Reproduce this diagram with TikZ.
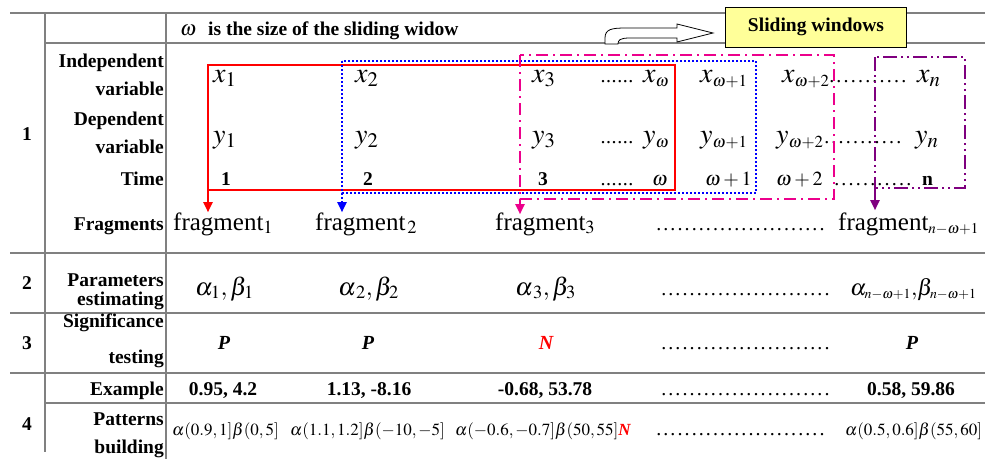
\documentclass[tikz,border=0pt]{standalone}
\usepackage{mathptmx}
\usepackage{fontspec}
\setmainfont{Liberation Serif}
\usetikzlibrary{arrows.meta}
\definecolor{boxyellow}{HTML}{FFFF99}
\definecolor{mypurple}{HTML}{7F007F}
\definecolor{gridgray}{HTML}{808080}
\newcommand{\dotrun}[2]{\hbox to #1pt{\leaders\hbox to #2pt{\hss.\hss}\hfill}}
\newcommand{\ssub}[1]{_{\scriptscriptstyle #1}}
\begin{document}
\begin{tikzpicture}[x=1pt,y=-1pt,
  grid/.style={draw=gridgray, line width=1.2pt},
  lbl/.style={anchor=base east, inner sep=0pt, font=\fontsize{19.5}{20}\selectfont\bfseries},
  idx/.style={anchor=base, inner sep=0pt, font=\fontsize{19.5}{20}\selectfont\bfseries},
  big/.style={anchor=base west, inner sep=0pt, font=\fontsize{25}{25}\selectfont},
  vbig/.style={anchor=base west, inner sep=0pt, font=\fontsize{28}{28}\selectfont},
  mid/.style={anchor=base west, inner sep=0pt, font=\fontsize{20}{20}\selectfont},
  bc/.style={anchor=base, inner sep=0pt, font=\fontsize{19.5}{20}\selectfont\bfseries},
  bw/.style={anchor=base west, inner sep=0pt, font=\fontsize{19.5}{20}\selectfont\bfseries},
  sig/.style={anchor=base, inner sep=0pt, font=\fontsize{20}{20}\selectfont\bfseries\itshape},
  pat/.style={anchor=base west, inner sep=0pt, font=\fontsize{17}{17}\selectfont},
  dotw/.style={anchor=base west, inner sep=0pt, font=\fontsize{20}{20}\selectfont},
  win/.style={line width=2pt},
  arr/.style={line width=2pt, -{Triangle[width=9pt,length=10pt]}},
]
\useasboundingbox (0,0) rectangle (985,459);
% table grid
\draw[grid] (10,13) -- (985,13);
\draw[grid] (45,43) -- (985,43);
\draw[grid] (10,253) -- (985,253);
\draw[grid] (10,313) -- (985,313);
\draw[grid] (10,373) -- (985,373);
\draw[grid] (45,403) -- (985,403);
\draw[grid] (45,13) -- (45,452);
\draw[grid] (166,13) -- (166,459);

% step numbers
\node[idx] (n1) at (27,140) {1};
\node[idx] (n2) at (27,289) {2};
\node[idx] (n3) at (27,349) {3};
\node[idx] (n4) at (27,430) {4};

% header
\node[anchor=base west, inner sep=0pt, font=\fontsize{21}{21}\selectfont] (om) at (180,35) {$\omega$};
\node[bw] (hdr) at (208,35) {is the size of the sliding widow};

% bent arrow and sliding windows box
\draw[black, line width=0.8pt, fill=white] (605,44) -- (605,38) .. controls (605,29) and (612,28) .. (626,28) -- (677,28) -- (677,24) -- (713,33) -- (677,42) -- (677,38) -- (630,38) .. controls (620,38) and (618,40) .. (618,44) -- cycle;
\node[draw=black, line width=1pt, fill=boxyellow, minimum width=181pt, minimum height=40pt, inner sep=0pt, font=\fontsize{19.5}{20}\selectfont\bfseries] (sw) at (816,27) {Sliding windows};

% row labels
\node[lbl] (l1) at (164,67) {Independent};
\node[lbl] (l2) at (164,95) {variable};
\node[lbl] (l3) at (164,125) {Dependent};
\node[lbl] (l4) at (164,153) {variable};
\node[lbl] (l5) at (164,185) {Time};
\node[lbl] (l6) at (164,230) {Fragments};
\node[lbl] (l7) at (164,286) {Parameters};
\node[lbl] (l8) at (164,305) {estimating};
\node[lbl] (l9) at (164,327) {Significance};
\node[lbl] (l10) at (164,363) {testing};
\node[lbl] (l11) at (164,395) {Example};
\node[lbl] (l12) at (164,425) {Patterns};
\node[lbl] (l13) at (164,453) {building};

% x row
\node[vbig] (x1) at (213,82) {$x_1$};
\node[vbig] (x2) at (355,82) {$x_2$};
\node[vbig] (x3) at (532,82) {$x_3$};
\node[dotw] (xd1) at (600,82) {\dotrun{34}{5.6}};
\node[vbig] (xw) at (643,82) {$x\ssub{\omega}$};
\node[vbig] (xw1) at (700,82) {$x\ssub{\omega+1}$};
\node[vbig] (xw2) at (782,82) {$x\ssub{\omega+2}$};
\node[dotw] (xd2) at (828,82) {\dotrun{82}{7.2}};
\node[vbig] (xn) at (917,82) {$x_n$};

% y row
\node[vbig] (y1) at (213,143) {$y_1$};
\node[vbig] (y2) at (355,143) {$y_2$};
\node[vbig] (y3) at (532,143) {$y_3$};
\node[dotw] (yd1) at (600,143) {\dotrun{34}{5.6}};
\node[vbig] (yw) at (643,143) {$y\ssub{\omega}$};
\node[vbig] (yw1) at (700,143) {$y\ssub{\omega+1}$};
\node[vbig] (yw2) at (776,143) {$y\ssub{\omega+2}$};
\node[dotw] (yd2) at (823,143) {\dotrun{84}{7.2}};
\node[vbig] (yn) at (915,143) {$y_n$};

% time row
\node[bc] (t1) at (226,185) {1};
\node[bc] (t2) at (368,185) {2};
\node[bc] (t3) at (543,185) {3};
\node[dotw] (td1) at (600,185) {\dotrun{34}{5.6}};
\node[mid] (tw) at (652,185) {$\omega$};
\node[mid] (tw1) at (705,185) {$\omega+1$};
\node[mid] (tw2) at (776,185) {$\omega+2$};
\node[dotw] (td2) at (833,185) {\dotrun{80}{7.2}};
\node[bw] (tn) at (922,185) {n};

% fragments row
\node[big] (f1) at (173,230) {fragment$_1$};
\node[big] (f2) at (315,230) {fragment$_{\,2}$};
\node[big] (f3) at (495,230) {fragment$_3$};
\node[dotw] (fd) at (655,230) {\dotrun{176}{7.1}};
\node[big] (fn) at (838,230) {fragment$\ssub{n-\omega+1}$};

% parameters row
\node[big] (p1) at (195,295) {$\alpha_1,\beta_1$};
\node[big] (p2) at (338,295) {$\alpha_{\,2},\beta_2$};
\node[big] (p3) at (515,295) {$\alpha_{\,3},\beta_3$};
\node[dotw] (pd) at (660,295) {\dotrun{176}{7.1}};
\node[anchor=base west, inner sep=0pt, font=\fontsize{23}{23}\selectfont] (pn) at (850,295) {$\alpha\ssub{n-\omega+1}{,}\beta\ssub{n-\omega+1}$};

% significance row
\node[sig] (s1) at (224,349) {P};
\node[sig] (s2) at (368,349) {P};
\node[sig, text=red] (s3) at (546,349) {N};
\node[dotw] (sd) at (660,349) {\dotrun{176}{7.1}};
\node[sig] (sn) at (912,349) {P};

% example row
\node[bc] (e1) at (223,395) {0.95, 4.2};
\node[bc] (e2) at (369,395) {1.13, -8.16};
\node[bc] (e3) at (545,395) {-0.68, 53.78};
\node[dotw] (ed) at (660,395) {\dotrun{176}{7.1}};
\node[bc] (en) at (911,395) {0.58, 59.86};

% patterns row
\node[pat] (b1) at (172,435) {$\alpha(0.9,1]\beta(0,5]$};
\node[pat] (b2) at (290,435) {$\alpha(1.1,1.2]\beta(-10,-5]$};
\node[pat] (b3) at (455,435) {$\alpha(-0.6,-0.7]\beta(50,55]$\textcolor{red}{\bfseries\itshape N}};
\node[dotw] (bd) at (655,435) {\dotrun{176}{7.1}};
\node[pat] (bn) at (845,435) {$\alpha(0.5,0.6]\beta(55,60]$};

% sliding windows
\coordinate (r1a) at (208,65); \coordinate (r1b) at (675,190); \coordinate (r1c) at (208,190);
\coordinate (r2a) at (342,61); \coordinate (r2b) at (756,193); \coordinate (r2c) at (342,193);
\coordinate (r3a) at (520,55); \coordinate (r3b) at (834,199); \coordinate (r3c) at (520,199);
\coordinate (r4a) at (875,57); \coordinate (r4b) at (965,188); \coordinate (r4c) at (875,188);
\draw[win, red] (r1a) rectangle (r1b);
\draw[win, blue, dash pattern=on 2pt off 2pt] (r2a) rectangle (r2b);
\draw[win, magenta, dash pattern=on 12pt off 5pt on 2pt off 5pt] (r3a) rectangle (r3b);
\draw[win, mypurple, dash pattern=on 14pt off 4pt on 2pt off 4pt on 2pt off 4pt] (r4a) rectangle (r4b);
\draw[arr, red] (r1c) -- (r1c |- f1.north);
\draw[arr, blue, dash pattern=on 2pt off 2pt] (r2c) -- (r2c |- f2.north);
\draw[arr, magenta] (r3c) -- ([yshift=-2pt]r3c |- f3.north);
\draw[arr, mypurple] (r4c) -- ([yshift=2pt]r4c |- fn.north);
\end{tikzpicture}
\end{document}
